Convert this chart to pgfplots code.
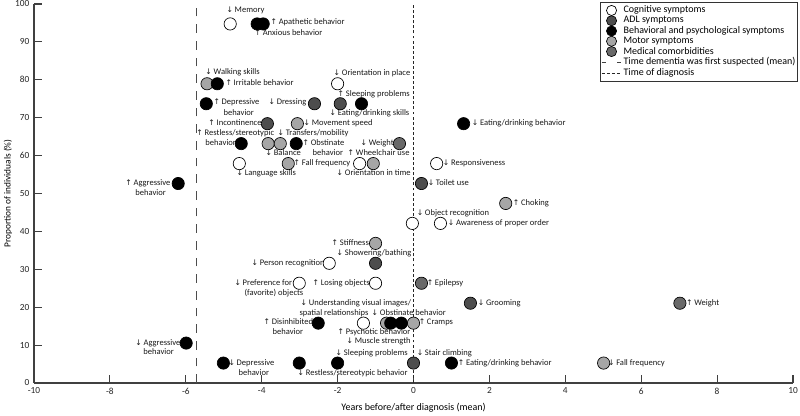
\documentclass[border=0pt]{standalone}
\usepackage{fontspec}
\setmainfont{Carlito}
\newfontfamily\arrfont{DejaVu Sans}
\usepackage{pgfplots}
\pgfplotsset{compat=1.18}
\definecolor{adl}{HTML}{4D4D4D}
\definecolor{medic}{HTML}{696969}
\definecolor{motor}{HTML}{A6A6A6}
\definecolor{axcol}{HTML}{404040}
\newcommand\up{{\arrfont\fontsize{5.8}{7}\selectfont ↑}\hspace{1.3pt}}
\newcommand\dn{{\arrfont\fontsize{5.8}{7}\selectfont ↓}\hspace{1.3pt}}
\tikzset{lab/.style={anchor=west, inner sep=0pt, text=black!90, font=\fontsize{6.4}{7.5}\selectfont}}
\begin{document}
\begin{tikzpicture}[font=\fontsize{7.5}{9}\selectfont]
\begin{axis}[
    scale only axis, width=569.25pt, height=284.25pt,
    xmin=-10, xmax=10, ymin=0, ymax=100,
    axis lines=left, axis line style={-, axcol, line width=0.8pt},
    xtick={-10,-8,...,10}, ytick={0,10,...,100},
    tick align=inside, major tick length=6pt,
    tick style={axcol, line width=0.8pt},
    /pgf/number format/assume math mode=true,
    ticklabel style={font=\fontsize{7}{8}\selectfont, text=black!85},
    xlabel={Years before/after diagnosis (mean)},
    ylabel={Proportion of individuals (\%)},
    xlabel style={at={(axis description cs:0.5,-0.066)}, anchor=center, font=\fontsize{7.5}{9}\selectfont},
    ylabel style={at={(axis description cs:-0.0343,0.5)}, anchor=center, font=\fontsize{7}{9}\selectfont},
    clip=false,
    legend cell align=left,
    legend style={at={(rel axis cs:1,1)}, anchor=north east, xshift=3.75pt, yshift=1.5pt,
        draw=black!80, line width=0.6pt, font=\fontsize{7.5}{9}\selectfont,
        row sep=-1.2pt, inner xsep=0.5pt, inner ysep=1.5pt, nodes={inner sep=1.2pt}},
    legend image code/.code={\draw[mark repeat=2, mark phase=2, #1] plot coordinates {(0cm,0cm) (0.26cm,0cm) (0.52cm,0cm)};},
]
% legend entries
\addlegendimage{only marks, mark=*, mark size=3.8pt, mark options={fill=white, draw=black, line width=0.5pt}}
\addlegendentry{Cognitive symptoms}
\addlegendimage{only marks, mark=*, mark size=3.8pt, mark options={fill=adl, draw=black, line width=0.5pt}}
\addlegendentry{ADL symptoms}
\addlegendimage{only marks, mark=*, mark size=3.8pt, mark options={fill=black, draw=black, line width=0.5pt}}
\addlegendentry{Behavioral and psychological symptoms}
\addlegendimage{only marks, mark=*, mark size=3.8pt, mark options={fill=motor, draw=black, line width=0.5pt}}
\addlegendentry{Motor symptoms}
\addlegendimage{only marks, mark=*, mark size=3.8pt, mark options={fill=medic, draw=black, line width=0.5pt}}
\addlegendentry{Medical comorbidities}
\addlegendimage{black!75, line width=0.9pt, dash pattern=on 3pt off 8.5pt}
\addlegendentry{Time dementia was first suspected (mean)}
\addlegendimage{black!85, line width=0.7pt, dash pattern=on 2.2pt off 1.6pt}
\addlegendentry{Time of diagnosis}

% reference lines
\addplot[black!70, line width=0.9pt, dash pattern=on 6.5pt off 6pt, forget plot] coordinates {(-5.72,0) (-5.72,100)};
\addplot[black!85, line width=0.7pt, dash pattern=on 2.2pt off 1.6pt, forget plot] coordinates {(0,0) (0,100)};

% cognitive
\addplot[only marks, mark=*, mark size=4.6pt, mark options={fill=white, draw=black, line width=0.5pt}, forget plot] coordinates {
(-4.83,94.74) (-2.00,78.95) (-4.59,57.89) (-1.42,57.89) (0.61,57.89)
(-0.03,42.11) (0.71,42.11) (-2.22,31.58) (-3.01,26.32) (-1.00,26.32) (-1.32,15.79)};
% ADL
\addplot[only marks, mark=*, mark size=4.6pt, mark options={fill=adl, draw=black, line width=0.5pt}, forget plot] coordinates {
(-2.61,73.68) (-1.93,73.68) (-3.85,68.42) (0.21,52.63) (-1.00,31.58) (1.50,21.05) (0.00,5.26)};
% medical
\addplot[only marks, mark=*, mark size=4.6pt, mark options={fill=medic, draw=black, line width=0.5pt}, forget plot] coordinates {
(-0.37,63.16) (0.21,26.32) (7.02,21.05)};
% motor
\addplot[only marks, mark=*, mark size=4.6pt, mark options={fill=motor, draw=black, line width=0.5pt}, forget plot] coordinates {
(-5.44,78.95) (-3.06,68.42) (-3.83,63.16) (-3.51,63.16) (-3.30,57.89) (-1.06,57.89)
(2.43,47.37) (-1.00,36.84) (-0.71,15.79) (0.00,15.79) (5.01,5.26)};
% behavioral
\addplot[only marks, mark=*, mark size=4.6pt, mark options={fill=black, draw=black, line width=0.5pt}, forget plot] coordinates {
(-4.12,94.74) (-3.96,94.74) (-5.17,78.95) (-5.46,73.68) (-1.37,73.68) (1.32,68.42)
(-4.54,63.16) (-3.09,63.16) (-6.20,52.63) (-2.51,15.79) (-0.60,15.79) (-0.32,15.79)
(-5.99,10.53) (-5.01,5.26) (-3.01,5.26) (-2.00,5.26) (1.00,5.26)};

% labels
\node[lab] at (axis cs:-4.934,98.42) {\dn Memory};
\node[lab] at (axis cs:-3.773,95.25) {\up Apathetic behavior};
\node[lab] at (axis cs:-4.195,92.35) {\up Anxious behavior};
\node[lab] at (axis cs:-5.488,82.06) {\dn Walking skills};
\node[lab] at (axis cs:-4.960,79.16) {\up Irritable behavior};
\node[lab] at (axis cs:-5.277,74.14) {\up Depressive};
\node[lab] at (axis cs:-5.013,71.24) {behavior};
\node[lab] at (axis cs:-3.826,74.14) {\dn Dressing};
\node[lab] at (axis cs:-2.111,81.79) {\dn Orientation in place};
\node[lab] at (axis cs:-2.005,76.25) {\up Sleeping problems};
\node[lab] at (axis cs:-2.216,71.24) {\dn Eating/drinking skills};
\node[lab] at (axis cs:-5.409,68.60) {\up Incontinence};
\node[lab] at (axis cs:-2.902,68.60) {\dn Movement speed};
\node[lab] at (axis cs:1.530,68.60) {\dn Eating/drinking behavior};
\node[lab] at (axis cs:-5.726,65.96) {\up Restless/stereotypic};
\node[lab] at (axis cs:-5.488,63.32) {behavior};
\node[lab] at (axis cs:-3.588,65.96) {\dn Transfers/mobility};
\node[lab] at (axis cs:-2.929,63.32) {\up Obstinate};
\node[lab] at (axis cs:-2.665,60.69) {behavior};
\node[lab] at (axis cs:-3.905,60.69) {\dn Balance};
\node[lab] at (axis cs:-1.398,63.32) {\dn Weight};
\node[lab] at (axis cs:-1.741,60.69) {\up Wheelchair use};
\node[lab] at (axis cs:-3.166,58.05) {\up Fall frequency};
\node[lab] at (axis cs:-2.032,55.41) {\dn Orientation in time};
\node[lab] at (axis cs:-4.670,55.41) {\dn Language skills};
\node[lab] at (axis cs:0.765,58.05) {\dn Responsiveness};
\node[lab] at (axis cs:-7.599,52.77) {\up Aggressive};
\node[lab] at (axis cs:-7.335,50.13) {behavior};
\node[lab] at (axis cs:0.369,52.77) {\dn Toilet use};
\node[lab] at (axis cs:2.612,47.49) {\up Choking};
\node[lab] at (axis cs:0.079,44.85) {\dn Object recognition};
\node[lab] at (axis cs:0.897,42.22) {\dn Awareness of proper order};
\node[lab] at (axis cs:-2.164,36.94) {\up Stiffness};
\node[lab] at (axis cs:-2.032,34.30) {\dn Showering/bathing};
\node[lab] at (axis cs:-4.274,31.66) {\dn Person recognition};
\node[lab] at (axis cs:-4.723,26.39) {\dn Preference for};
\node[lab] at (axis cs:-4.459,23.75) {(favorite) objects};
\node[lab] at (axis cs:-2.665,26.39) {\up Losing objects};
\node[lab] at (axis cs:0.343,26.39) {\up Epilepsy};
\node[lab] at (axis cs:-2.982,21.11) {\dn Understanding visual images/};
\node[lab] at (axis cs:-3.008,18.47) {spatial relationships};
\node[lab] at (axis cs:-1.108,18.47) {\dn Obstinate behavior};
\node[lab] at (axis cs:1.689,21.11) {\dn Grooming};
\node[lab] at (axis cs:7.177,21.11) {\up Weight};
\node[lab] at (axis cs:-3.958,16.09) {\up Disinhibited};
\node[lab] at (axis cs:-3.720,13.46) {behavior};
\node[lab] at (axis cs:0.132,16.09) {\up Cramps};
\node[lab] at (axis cs:-2.005,13.46) {\up Psychotic behavior};
\node[lab] at (axis cs:-1.768,11.08) {\dn Muscle strength};
\node[lab] at (axis cs:-7.335,10.55) {\dn Aggressive};
\node[lab] at (axis cs:-7.124,8.18) {behavior};
\node[lab] at (axis cs:-2.058,7.92) {\dn Sleeping problems};
\node[lab] at (axis cs:0.079,7.92) {\dn Stair climbing};
\node[lab] at (axis cs:-4.881,5.28) {\dn Depressive};
\node[lab] at (axis cs:-4.617,2.64) {behavior};
\node[lab] at (axis cs:-3.061,2.64) {\dn Restless/stereotypic behavior};
\node[lab] at (axis cs:1.161,5.28) {\up Eating/drinking behavior};
\node[lab] at (axis cs:5.119,5.28) {\dn Fall frequency};
\end{axis}
\pgfresetboundingbox
\path (-25.5pt,-24.75pt) rectangle (574.5pt,287.25pt);
\end{tikzpicture}
\end{document}
